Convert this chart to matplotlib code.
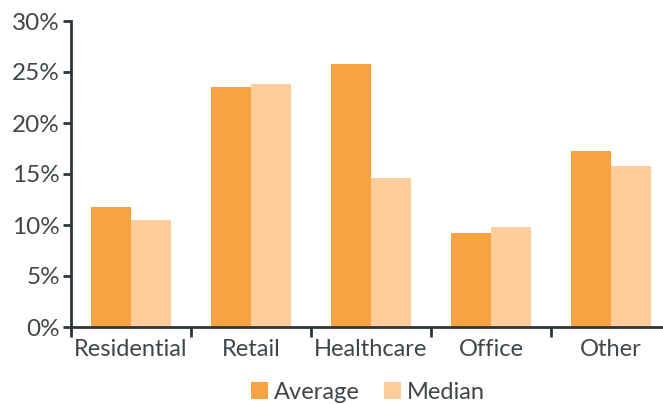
import numpy as np
import matplotlib.pyplot as plt
from matplotlib.ticker import FuncFormatter, FixedLocator

# Datos
categorias = ["Residential", "Retail", "Healthcare", "Office", "Other"]
promedio = [11.8, 23.5, 25.8, 9.2, 17.3]
mediana = [10.5, 23.8, 14.6, 9.8, 15.8]
series = ["Average", "Median"]

col_prom = "#F8A343"
col_med = "#FDCE9C"
col_eje = "#2E373C"
col_txt = "#3F4549"

plt.rcParams["font.family"] = ["Lato", "DejaVu Sans"]

fig = plt.figure(figsize=(6.63, 4.04), dpi=100)
# el eje x se sale un poco por la derecha, como en la referencia
ax = fig.add_axes([71 / 663, 77 / 404, 600 / 663, 306 / 404])

x = np.arange(len(categorias)) + 0.5
w = 0.33
ax.bar(x - w / 2, promedio, width=w, color=col_prom, label=series[0], zorder=2)
ax.bar(x + w / 2, mediana, width=w, color=col_med, label=series[1], zorder=2)

ax.set_xlim(0, len(categorias))
ax.set_ylim(0, 30)

for s in ["top", "right"]:
    ax.spines[s].set_visible(False)
for s in ["left", "bottom"]:
    ax.spines[s].set_color(col_eje)
    ax.spines[s].set_linewidth(2)

ax.set_yticks(np.arange(0, 31, 5))
ax.yaxis.set_major_formatter(FuncFormatter(lambda v, p: f"{v:.0f}%"))
ax.tick_params(axis="y", length=6, width=2, color=col_eje, labelsize=17.5,
               labelcolor=col_txt, pad=2)

ax.set_xticks(x)
ax.set_xticklabels(categorias)
ax.xaxis.set_minor_locator(FixedLocator(np.arange(0, len(categorias) + 1)))
ax.tick_params(axis="x", which="major", length=0, labelsize=17,
               labelcolor=col_txt, pad=9)
ax.tick_params(axis="x", which="minor", length=7, width=2, color=col_eje)

fig.legend(loc="lower center", bbox_to_anchor=(368 / 663, -0.05), ncol=2,
           frameon=False, fontsize=17, handlelength=0.75, handleheight=0.75,
           handletextpad=0.25, columnspacing=1.0, labelcolor=col_txt)

fig.savefig("out.png", dpi=100)
